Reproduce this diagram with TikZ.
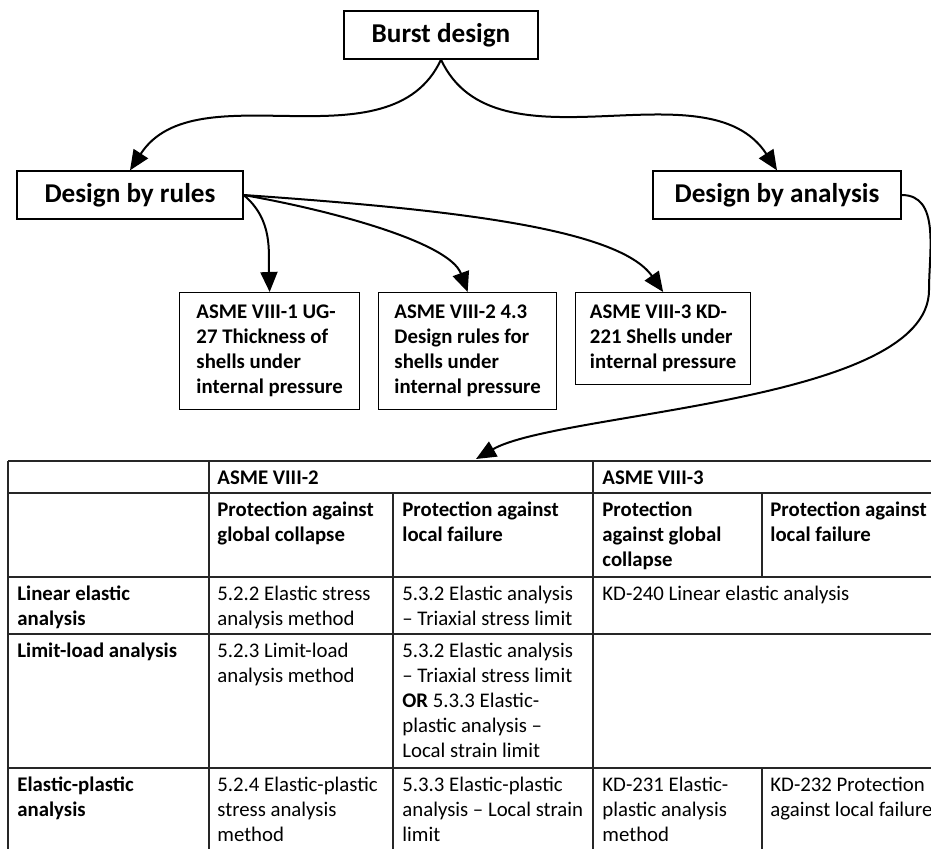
\documentclass[tikz,border=0pt]{standalone}
\usepackage{fontspec}
\setmainfont{Carlito}
\usetikzlibrary{arrows.meta}

\tikzset{
  head/.style={draw, line width=0.65pt, font=\fontsize{13.6}{16}\selectfont\bfseries, minimum height=24pt, inner sep=0pt},
  rulebox/.style={draw, line width=0.65pt, anchor=north west, align=left, inner xsep=0pt, inner ysep=4.25pt, font=\fontsize{10.4}{12.5}\selectfont\bfseries},
  cell/.style={anchor=north west, inner sep=0pt, align=left, font=\fontsize{10.4}{12.5}\selectfont},
  cellhead/.style={cell, font=\fontsize{10.4}{12.5}\selectfont\bfseries},
  arr/.style={-{Triangle[length=10pt,width=8.5pt]}, line width=1pt},
  tblline/.style={line width=0.75pt, black!85},
}

\begin{document}
\begin{tikzpicture}[x=0.5pt,y=0.5pt]
\useasboundingbox (0,-848) rectangle (931,0);
\clip (0,-848) rectangle (931,0);

% top of the tree
\node[head, minimum width=97pt] (burst) at (441,-35) {Burst design};
\node[head, minimum width=113pt] (rules) at (130,-195) {Design by rules};
\node[head, minimum width=124pt] (analysis) at (777,-195) {Design by analysis};

% design by rules
\node[rulebox, minimum width=90pt] (vone) at (179,-292) {\strut ASME VIII-1 UG-\\27 Thickness of\\shells under\\internal pressure\strut};
\node[rulebox, minimum width=89pt] (vtwo) at (378,-292) {\strut ASME VIII-2 4.3\\Design rules for\\shells under\\internal pressure\strut};
\node[rulebox, minimum width=87.5pt] (vthree) at (575,-292) {\strut ASME VIII-3 KD-\\221 Shells under\\internal pressure\strut};

\draw[arr] (burst.south) to[out=-115,in=57,looseness=0.94] (rules.north);
\draw[arr] (burst.south) to[out=-65,in=123,looseness=0.94] (analysis.north);
\draw[arr] (rules.east) to[out=-40,in=92] (vone.north);
\draw[arr] (rules.east) to[out=-10,in=110,out looseness=0.96,in looseness=0.55] (vtwo.north);
\draw[arr] (rules.east) to[out=-4,in=125,out looseness=1.19,in looseness=0.47] (vthree.north);

% design by analysis -> table
\coordinate (bend) at (929,-290);
\coordinate (tbltop) at (476,-459);
\draw[arr] (analysis.east) to[out=0,in=90] (bend) to[out=-90,in=30,out looseness=0.6,in looseness=0.5] (tbltop);

% table rules
\foreach \y in {461,493,577,634,768}
  \draw[tblline] (8,-\y) -- (960,-\y);
\foreach \x in {8,209,593}
  \draw[tblline] (\x,-461) -- (\x,-870);
\draw[tblline] (393,-493) -- (393,-870);
\draw[tblline] (762,-493) -- (762,-577);
\draw[tblline] (762,-768) -- (762,-870);

% header rows
\node[cellhead] (c01) at (217,-466.5) {\strut ASME VIII-2};
\node[cellhead] (c03) at (602,-466.5) {\strut ASME VIII-3};
\node[cellhead] (c11) at (217,-498.5) {\strut Protection against\\global collapse};
\node[cellhead] (c12) at (402,-498.5) {\strut Protection against\\local failure};
\node[cellhead] (c13) at (602,-498.5) {\strut Protection\\against global\\collapse};
\node[cellhead] (c14) at (770,-498.5) {\strut Protection against\\local failure};

% linear elastic
\node[cellhead] (c20) at (17,-582.5) {\strut Linear elastic\\analysis};
\node[cell] (c21) at (217,-582.5) {\strut 5.2.2 Elastic stress\\analysis method};
\node[cell] (c22) at (402,-582.5) {\strut 5.3.2 Elastic analysis\\– Triaxial stress limit};
\node[cell] (c23) at (602,-582.5) {\strut KD-240 Linear elastic analysis};

% limit load
\node[cellhead] (c30) at (17,-639.5) {\strut Limit-load analysis};
\node[cell] (c31) at (217,-639.5) {\strut 5.2.3 Limit-load\\analysis method};
\node[cell] (c32) at (402,-639.5) {\strut 5.3.2 Elastic analysis\\– Triaxial stress limit\\\textbf{OR} 5.3.3 Elastic-\\plastic analysis –\\Local strain limit};

% elastic-plastic
\node[cellhead] (c40) at (17,-773.5) {\strut Elastic-plastic\\analysis};
\node[cell] (c41) at (217,-773.5) {\strut 5.2.4 Elastic-plastic\\stress analysis\\method};
\node[cell] (c42) at (402,-773.5) {\strut 5.3.3 Elastic-plastic\\analysis – Local strain\\limit};
\node[cell] (c43) at (602,-773.5) {\strut KD-231 Elastic-\\plastic analysis\\method};
\node[cell] (c44) at (770,-773.5) {\strut KD-232 Protection\\against local failure};
\end{tikzpicture}
\end{document}
